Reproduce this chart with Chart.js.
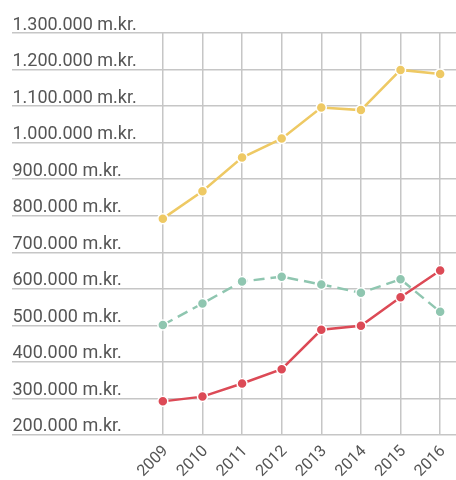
<!DOCTYPE html>
<html>
<head>
<meta charset="utf-8">
<script src="https://cdn.jsdelivr.net/npm/chart.js@4/dist/chart.umd.min.js"></script>
<style>
  html, body { margin: 0; padding: 0; background: #ffffff; }
  #wrap { width: 456px; height: 480px; position: relative; }
</style>
</head>
<body>
<div id="wrap"><canvas id="c"></canvas></div>
<script>
const years = [2009, 2010, 2011, 2012, 2013, 2014, 2015, 2016];
const seriesYellow = [792000, 867000, 959000, 1011000, 1096000, 1089000, 1199000, 1188000];
const seriesTeal = [501000, 560000, 620000, 633000, 612000, 589000, 626000, 537000];
const seriesRed = [292000, 305000, 341000, 380000, 488000, 499000, 577000, 650000];
const yTicks = [200000, 300000, 400000, 500000, 600000, 700000, 800000, 900000, 1000000, 1100000, 1200000, 1300000];

function pts(vals) { return years.map((y, i) => ({ x: y, y: vals[i] })); }
function fmt(v) { return String(v).replace(/\B(?=(\d{3})+(?!\d))/g, '.') + ' m.kr.'; }

const common = { borderWidth: 2.5, pointRadius: 5, pointBorderWidth: 1.5, pointBorderColor: '#ffffff', tension: 0, fill: false };

new Chart(document.getElementById('c'), {
  type: 'line',
  data: {
    datasets: [
      Object.assign({ data: pts(seriesYellow), borderColor: '#eec964', backgroundColor: '#eec964', pointBackgroundColor: '#eec964' }, common),
      Object.assign({ data: pts(seriesTeal), borderColor: '#8fc6b0', backgroundColor: '#8fc6b0', pointBackgroundColor: '#8fc6b0', borderDash: [11, 6] }, common),
      Object.assign({ data: pts(seriesRed), borderColor: '#dc4a56', backgroundColor: '#dc4a56', pointBackgroundColor: '#dc4a56' }, common)
    ]
  },
  options: {
    responsive: true,
    maintainAspectRatio: false,
    animation: false,
    layout: { autoPadding: false, padding: { left: 9.5, right: 0, top: 33, bottom: -8 } },
    plugins: { legend: { display: false }, tooltip: { enabled: false } },
    scales: {
      x: {
        type: 'linear',
        min: 2005.18,
        max: 2016.4,
        afterBuildTicks: (s) => { s.ticks = years.map(v => ({ value: v })); },
        afterFit: (s) => { s.paddingLeft = 0; s.paddingRight = 0; },
        grid: { color: '#c6c6c6', lineWidth: 1.5, drawTicks: false },
        border: { display: false },
        ticks: {
          autoSkip: false,
          minRotation: 45, maxRotation: 45,
          padding: 7,
          labelOffset: 3,
          color: '#555555',
          font: { family: 'Roboto', size: 16 },
          callback: (v) => String(v)
        }
      },
      y: {
        min: 200000,
        max: 1300000,
        afterBuildTicks: (s) => { s.ticks = yTicks.map(v => ({ value: v })); },
        grid: { color: '#c6c6c6', lineWidth: 1.5, drawTicks: false },
        border: { display: false },
        ticks: {
          mirror: true,
          padding: 1,
          labelOffset: -8,
          color: '#555555',
          font: { family: 'Roboto', size: 18 },
          callback: (v) => fmt(v)
        }
      }
    }
  }
});
</script>
</body>
</html>
